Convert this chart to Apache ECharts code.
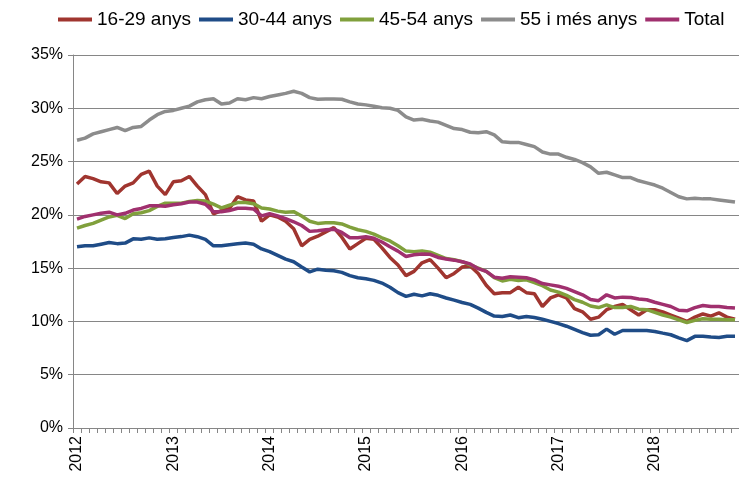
<!DOCTYPE html>
<html>
<head>
<meta charset="utf-8">
<script src="https://cdn.jsdelivr.net/npm/echarts@6/dist/echarts.min.js"></script>
<style>
  html, body { margin: 0; padding: 0; background: #fff; }
  #chart { width: 739px; height: 485px; }
</style>
</head>
<body>
<div id="chart"></div>
<script>
// monthly rate (%), Jan 2012 - Nov 2018
const years = ['2012', '2013', '2014', '2015', '2016', '2017', '2018'];
const months = [];
years.forEach(y => {
  for (let m = 1; m <= 12; m++) {
    if (months.length < 83) months.push(y + '-' + m);
  }
});

const age16_29 = [
  22.9, 23.6, 23.4, 23.1, 23.0, 22.0, 22.7, 23.0, 23.8, 24.1, 22.7, 21.9,
  23.1, 23.2, 23.6, 22.7, 21.9, 20.1, 20.4, 20.6, 21.7, 21.4, 21.3, 19.4,
  20.0, 19.8, 19.4, 18.7, 17.1, 17.7, 18.0, 18.4, 18.8, 17.9, 16.8, 17.3,
  17.8, 17.7, 16.9, 16.0, 15.3, 14.3, 14.7, 15.5, 15.8, 15.0, 14.1, 14.5,
  15.1, 15.2, 14.5, 13.4, 12.6, 12.7, 12.7, 13.2, 12.7, 12.6, 11.4, 12.2,
  12.5, 12.2, 11.2, 10.9, 10.2, 10.4, 11.1, 11.4, 11.6, 11.1, 10.6, 11.1,
  11.1, 10.9, 10.6, 10.3, 10.0, 10.4, 10.7, 10.5, 10.8, 10.4, 10.2
];
const age30_44 = [
  17.0, 17.1, 17.1, 17.25, 17.4, 17.3, 17.35, 17.75, 17.72, 17.84, 17.72, 17.75,
  17.87, 17.96, 18.1, 17.95, 17.7, 17.1, 17.1, 17.2, 17.28, 17.35, 17.25, 16.8,
  16.55, 16.2, 15.85, 15.6, 15.1, 14.65, 14.9, 14.8, 14.75, 14.6, 14.3, 14.1,
  14.0, 13.85, 13.6, 13.2, 12.7, 12.35, 12.55, 12.4, 12.6, 12.45, 12.2, 12.0,
  11.78, 11.6, 11.25, 10.85, 10.5, 10.46, 10.6, 10.35, 10.46, 10.37, 10.2, 10.0,
  9.8, 9.55, 9.25, 8.95, 8.7, 8.75, 9.28, 8.8, 9.15, 9.15, 9.15, 9.15,
  9.06, 8.9, 8.75, 8.45, 8.2, 8.6, 8.6, 8.53, 8.5, 8.6, 8.6
];
const age45_54 = [
  18.75, 19.0, 19.2, 19.5, 19.8, 19.95, 19.65, 20.1, 20.2, 20.4, 20.8, 21.1,
  21.1, 21.1, 21.25, 21.35, 21.3, 21.0, 20.65, 20.9, 21.15, 21.15, 21.05, 20.65,
  20.55, 20.35, 20.25, 20.3, 19.9, 19.4, 19.2, 19.25, 19.25, 19.15, 18.85, 18.6,
  18.45, 18.2, 17.85, 17.55, 17.1, 16.6, 16.55, 16.62, 16.5, 16.2, 15.9, 15.8,
  15.6, 15.3, 15.0, 14.7, 14.1, 13.8, 13.95, 13.85, 13.9, 13.65, 13.35, 12.95,
  12.75, 12.45, 12.05, 11.8, 11.45, 11.3, 11.55, 11.3, 11.3, 11.4, 11.15, 11.1,
  10.85, 10.6, 10.4, 10.15, 9.9, 10.1, 10.25, 10.2, 10.2, 10.15, 10.15
];
const age55plus = [
  27.0, 27.2, 27.6, 27.8, 28.0, 28.2, 27.9, 28.2, 28.3, 28.9, 29.4, 29.7,
  29.8, 30.0, 30.2, 30.6, 30.8, 30.9, 30.4, 30.5, 30.9, 30.8, 31.0, 30.9,
  31.1, 31.25, 31.4, 31.6, 31.4, 31.0, 30.85, 30.87, 30.87, 30.85, 30.6, 30.4,
  30.32, 30.2, 30.05, 30.0, 29.8, 29.2, 28.9, 28.97, 28.8, 28.7, 28.4, 28.1,
  28.0, 27.75, 27.7, 27.8, 27.5, 26.85, 26.8, 26.8, 26.6, 26.4, 25.9, 25.7,
  25.7, 25.4, 25.2, 24.9, 24.5, 23.9, 24.0, 23.75, 23.5, 23.5, 23.2, 23.0,
  22.8, 22.5, 22.1, 21.7, 21.5, 21.55, 21.5, 21.5, 21.4, 21.3, 21.2
];
const total = [
  19.6, 19.85, 20.0, 20.15, 20.25, 20.0, 20.15, 20.45, 20.6, 20.85, 20.85, 20.8,
  20.95, 21.05, 21.2, 21.2, 21.0, 20.3, 20.3, 20.4, 20.62, 20.62, 20.55, 19.9,
  20.1, 19.9, 19.65, 19.35, 19.0, 18.45, 18.5, 18.6, 18.65, 18.35, 17.85, 17.85,
  17.95, 17.8, 17.45, 17.0, 16.6, 16.1, 16.25, 16.33, 16.3, 16.0, 15.85, 15.75,
  15.6, 15.4, 14.95, 14.7, 14.15, 14.05, 14.2, 14.15, 14.1, 13.9, 13.55, 13.43,
  13.3, 13.1, 12.8, 12.5, 12.05, 11.95, 12.5, 12.2, 12.28, 12.25, 12.1, 12.03,
  11.8, 11.6, 11.4, 11.05, 11.0, 11.3, 11.5, 11.4, 11.4, 11.3, 11.25
];

const seriesNames = ['16-29 anys', '30-44 anys', '45-54 anys', '55 i més anys', 'Total'];
const seriesData = [age16_29, age30_44, age45_54, age55plus, total];
const colors = ['#A0352F', '#1F4C87', '#80A03C', '#8C8C8C', '#A0306E'];

const chart = echarts.init(document.getElementById('chart'));

const option = {
  backgroundColor: '#fff',
  animation: false,
  color: colors,
  textStyle: { fontFamily: 'Liberation Sans, Arial, sans-serif' },
  legend: {
    left: 53,
    top: 5,
    itemWidth: 34,
    itemHeight: 4,
    itemGap: 8,
    icon: 'rect',
    textStyle: { fontSize: 19, color: '#000' },
    data: seriesNames
  },
  grid: {
    left: 73,
    top: 55,
    width: 674,
    height: 373
  },
  xAxis: {
    type: 'category',
    data: months,
    boundaryGap: true,
    axisLine: { lineStyle: { color: '#868686', width: 1 } },
    axisTick: { show: true, interval: 0, length: 5, lineStyle: { color: '#868686' } },
    axisLabel: {
      interval: (i) => i % 12 === 0,
      formatter: (v) => v.split('-')[0],
      rotate: 90,
      fontSize: 16,
      color: '#000',
      margin: 8
    },
    splitLine: { show: false }
  },
  yAxis: {
    type: 'value',
    min: 0,
    max: 35,
    interval: 5,
    axisLine: { show: true, lineStyle: { color: '#868686', width: 1 } },
    axisTick: { show: true, length: 5, lineStyle: { color: '#868686' } },
    axisLabel: { formatter: '{value}%', fontSize: 16, color: '#000', margin: 10 },
    splitLine: { lineStyle: { color: '#868686', width: 1 } }
  },
  series: seriesNames.map((name, k) => ({
    name: name,
    type: 'line',
    data: seriesData[k],
    showSymbol: false,
    symbol: 'none',
    lineStyle: { width: 3.5, color: colors[k] },
    itemStyle: { color: colors[k] }
  }))
};

chart.setOption(option);
</script>
</body>
</html>
